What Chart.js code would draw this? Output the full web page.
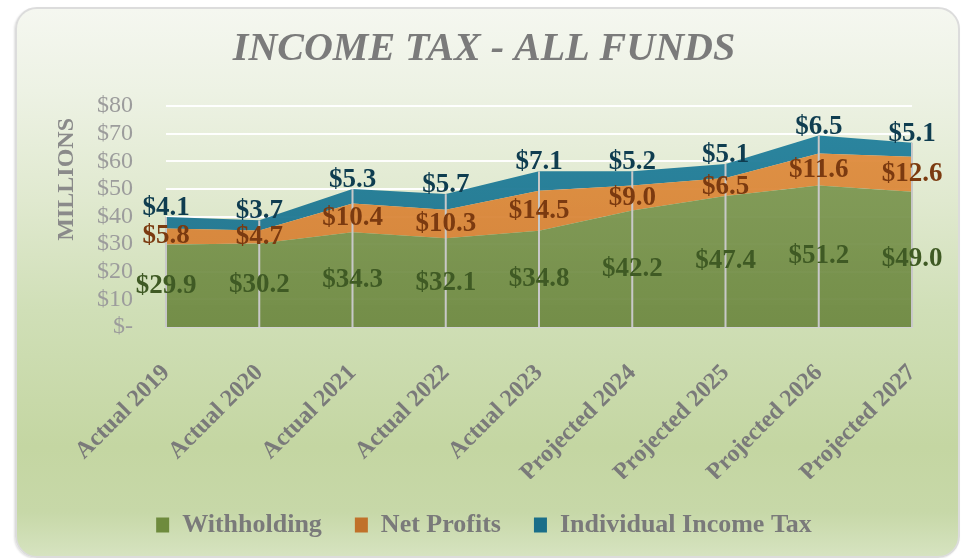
<!DOCTYPE html>
<html>
<head>
<meta charset="utf-8">
<title>Income Tax - All Funds</title>
<script src="https://cdn.jsdelivr.net/npm/chart.js@4.4.1/dist/chart.umd.min.js"></script>
<style>
  html, body { margin: 0; padding: 0; background: #ffffff; }
  body { width: 968px; height: 558px; position: relative; overflow: hidden; }
  .card {
    position: absolute; left: 15px; top: 7px; width: 945px; height: 551px;
    box-sizing: border-box; border: 2px solid #dcdcdc; border-radius: 22px;
    background: linear-gradient(to bottom, #f5f7f0 0%, #edf2e4 15%, #e0e9cf 35%, #d0dfb7 55%, #c4d6a2 80%, #c7d8a8 92%, #d6e3c0 100%);
    box-shadow: -1px 1px 2px rgba(0,0,0,0.12);
  }
  #chart { position: absolute; left: 0; top: 0; }
</style>
</head>
<body>
<div class="card"></div>
<canvas id="chart" width="968" height="558"></canvas>
<script>
// values in millions
const categories = ['Actual 2019', 'Actual 2020', 'Actual 2021', 'Actual 2022', 'Actual 2023',
                    'Projected 2024', 'Projected 2025', 'Projected 2026', 'Projected 2027'];
const withholding = [29.9, 30.2, 34.3, 32.1, 34.8, 42.2, 47.4, 51.2, 49.0];
const netProfits = [5.8, 4.7, 10.4, 10.3, 14.5, 9.0, 6.5, 11.6, 12.6];
const individualIncomeTax = [4.1, 3.7, 5.3, 5.7, 7.1, 5.2, 5.1, 6.5, 5.1];
const seriesNames = ['Withholding', 'Net Profits', 'Individual Income Tax'];

const legendColors = ['#6e8b3d', '#c0712a', '#1a6e89'];
const labelColors = ['#3f5a24', '#7b3a10', '#0f3d50'];
const SERIF = '"Liberation Serif", "Times New Roman", serif';

// vertical shading for each band, like the 3d look in the original
function bandFill(top, bottom) {
  return (c) => {
    const area = c.chart.chartArea;
    if (!area) return top;
    const g = c.chart.ctx.createLinearGradient(0, area.top, 0, area.bottom);
    g.addColorStop(0, top);
    g.addColorStop(1, bottom);
    return g;
  };
}

// drop lines from the top of the stack + value labels
const dropLinesAndLabels = {
  id: 'dropLinesAndLabels',
  afterDatasetsDraw(chart) {
    const { ctx, chartArea, scales } = chart;
    const lastMeta = chart.getDatasetMeta(chart.data.datasets.length - 1);
    ctx.save();
    ctx.strokeStyle = '#c8c8c8';
    ctx.lineWidth = 2;
    lastMeta.data.forEach(pt => {
      ctx.beginPath();
      ctx.moveTo(pt.x, pt.y);
      ctx.lineTo(pt.x, chartArea.bottom);
      ctx.stroke();
    });

    ctx.font = 'bold 27px ' + SERIF;
    ctx.textAlign = 'center';
    ctx.textBaseline = 'middle';
    chart.data.datasets.forEach((ds, i) => {
      const meta = chart.getDatasetMeta(i);
      meta.data.forEach((pt, j) => {
        const base = i === 0 ? scales.y.getPixelForValue(0) : chart.getDatasetMeta(i - 1).data[j].y;
        const y = i === 2 ? pt.y - 9 : (pt.y + base) / 2;
        ctx.fillStyle = labelColors[i];
        ctx.fillText('$' + ds.data[j].toFixed(1), pt.x, y);
      });
    });
    ctx.restore();
  }
};

const chart = new Chart(document.getElementById('chart'), {
  type: 'line',
  data: {
    labels: categories,
    datasets: [
      {
        label: seriesNames[0],
        data: withholding,
        fill: 'origin',
        backgroundColor: bandFill('rgba(130,158,88,0.94)', 'rgba(112,138,68,0.96)')
      },
      {
        label: seriesNames[1],
        data: netProfits,
        fill: '-1',
        backgroundColor: bandFill('rgba(226,143,64,0.96)', 'rgba(208,126,52,0.96)')
      },
      {
        label: seriesNames[2],
        data: individualIncomeTax,
        fill: '-1',
        backgroundColor: bandFill('rgba(36,130,158,0.96)', 'rgba(28,110,136,0.96)')
      }
    ]
  },
  options: {
    responsive: false,
    animation: false,
    layout: { padding: { top: 26, left: 56, right: 56, bottom: 10 } },
    elements: {
      line: { borderWidth: 0, tension: 0 },
      point: { radius: 0, hoverRadius: 0 }
    },
    scales: {
      x: {
        offset: false,
        grid: { display: false },
        border: { display: true, color: '#d2d2d2', width: 2 },
        ticks: {
          maxRotation: 45, minRotation: 45, padding: 24,
          color: '#7a7a7a',
          font: { family: SERIF, size: 24, weight: 'bold' }
        },
        afterFit(scale) { scale.height = 152; }
      },
      y: {
        stacked: true,
        min: 0, max: 80,
        grid: { color: 'rgba(255,255,255,0.95)', lineWidth: 2, drawTicks: false },
        border: { display: false },
        ticks: {
          stepSize: 10, padding: 33, autoSkip: false,
          color: '#9c9c9c',
          font: { family: SERIF, size: 24 },
          callback: (v) => v === 0 ? '$-' : '$' + v
        },
        title: {
          display: true, text: 'MILLIONS  ', align: 'end',
          color: '#8a8a8a',
          font: { family: SERIF, size: 24, weight: 'bold' },
          padding: { top: -4, bottom: 0 }
        },
        afterFit(scale) { scale.width = 110; }
      }
    },
    plugins: {
      title: {
        display: true,
        text: 'INCOME TAX - ALL FUNDS',
        color: '#7b7b7b',
        font: { family: SERIF, size: 40, style: 'italic', weight: 'bold' },
        padding: { top: 0, bottom: 32 }
      },
      legend: {
        position: 'bottom',
        labels: {
          boxWidth: 13, boxHeight: 15, padding: 33,
          color: '#7a7a7a',
          font: { family: SERIF, size: 26, weight: 'bold' },
          generateLabels(chart) {
            const items = Chart.defaults.plugins.legend.labels.generateLabels(chart);
            items.forEach((it, i) => {
              it.fillStyle = legendColors[i];
              it.strokeStyle = legendColors[i];
              it.lineWidth = 0;
            });
            return items;
          }
        }
      },
      tooltip: { enabled: false }
    }
  },
  plugins: [dropLinesAndLabels]
});
</script>
</body>
</html>
